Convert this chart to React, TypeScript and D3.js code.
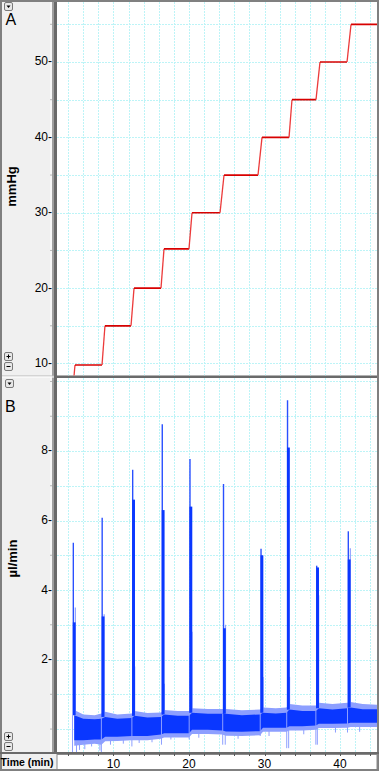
import React from "react";
import * as d3 from "d3";

const W = 379;
const H = 771;

// ---- Panel A: pressure (mmHg) vs time (min) ----
const pressureTime = [4.77, 4.9, 8.48, 8.87, 12.32, 12.72, 16.29, 16.69, 20.0, 20.4, 24.11, 24.64, 29.14, 29.67, 33.25, 33.64, 36.82, 37.35, 40.93, 41.46, 44.9];
const pressureValue = [8.34, 9.8, 9.8, 15, 15, 20, 20, 25.2, 25.2, 30, 30, 35, 35, 40, 40, 45, 45, 50, 50, 55, 55];

// ---- Panel B: flow (µl/min) vs time (min) ----
const flowTime = [4.8, 6.0, 7.5, 8.4, 8.9, 10.5, 12.4, 12.8, 14.5, 16.3, 16.7, 18.5, 20.0, 20.4, 22.5, 24.4, 24.9, 27.0, 29.4, 29.8, 31.5, 32.9, 33.3, 35.0, 36.8, 37.2, 39.0, 41.0, 41.4, 43.0, 44.9];
const flowCoreHi = [0.4, 0.3, 0.28, 0.3, 0.35, 0.3, 0.32, 0.38, 0.33, 0.35, 0.42, 0.38, 0.38, 0.47, 0.44, 0.44, 0.44, 0.4, 0.42, 0.47, 0.45, 0.47, 0.56, 0.52, 0.52, 0.6, 0.56, 0.6, 0.62, 0.57, 0.57];
const flowCoreLo = [-0.32, -0.32, -0.3, -0.3, -0.22, -0.22, -0.2, -0.2, -0.2, -0.16, -0.12, -0.12, -0.12, -0.02, -0.02, -0.04, -0.07, -0.08, -0.06, 0.04, 0.04, 0.04, 0.08, 0.08, 0.1, 0.15, 0.15, 0.16, 0.18, 0.18, 0.18];
const flowOuterHi = [0.55, 0.42, 0.4, 0.45, 0.5, 0.42, 0.45, 0.52, 0.46, 0.48, 0.55, 0.52, 0.52, 0.6, 0.58, 0.58, 0.58, 0.54, 0.56, 0.62, 0.6, 0.62, 0.72, 0.68, 0.68, 0.76, 0.72, 0.76, 0.78, 0.72, 0.7];
const flowOuterLo = [-0.48, -0.45, -0.42, -0.45, -0.35, -0.34, -0.32, -0.32, -0.32, -0.28, -0.24, -0.24, -0.24, -0.14, -0.14, -0.16, -0.19, -0.2, -0.18, -0.08, -0.08, -0.08, -0.04, -0.04, -0.02, 0.03, 0.03, 0.04, 0.06, 0.06, 0.06];

// light-blue noise excursions below the baseline
const dipTime = [5.1, 5.5, 6.2, 7.1, 8.2, 9.6, 11.3, 13.4, 15.1, 17.6, 21.3, 24.8, 26.5, 30.6, 33.2, 35.2, 37.0, 39.4, 42.6];
const dipValue = [-0.66, -0.6, -0.58, -0.5, -0.62, -0.45, -0.42, -0.4, -0.38, -0.3, -0.25, -0.45, -0.28, -0.2, -0.55, -0.15, -0.45, -0.1, -0.08];

const spikeTime = [4.68, 8.5, 12.54, 16.46, 20.13, 24.57, 29.54, 33.05, 36.91, 41.1];
const spikePeak = [5.36, 6.08, 7.46, 8.77, 7.77, 7.05, 5.19, 9.46, 4.7, 5.69];
const spikeDense = [3.07, 3.24, 6.6, 6.3, 6.4, 2.9, 5.0, 8.1, 4.65, 4.88];
const spikeSecond = [3.5, 3.3, 1.8, 1.3, 2.8, 3.0, 1.5, 1.5, 3.85, 5.2];
const spikeDip = [-0.66, -0.66, -0.5, -0.45, -0.3, -0.45, -0.2, -0.55, -0.45, -0.1];

// ---- Axes ----
const timeLabels = [10, 20, 30, 40];
const timeGrid = [4, 6, 8, 10, 12, 14, 16, 18, 20, 22, 24, 26, 28, 30, 32, 34, 36, 38, 40, 42, 44];
const pressureLabels = [10, 20, 30, 40, 50];
const pressureMinor = [15, 25, 35, 45, 55];
const pressureGrid = [10, 15, 20, 25, 30, 35, 40, 45, 50, 55];
const flowLabels = [2, 4, 6, 8];
const flowMinor = [0, 1, 3, 5, 7, 9, 10];
const flowGrid = [0, 1, 2, 3, 4, 5, 6, 7, 8, 9, 10];

const FONT = "'Liberation Sans', Arial, sans-serif";
const GRID = "#bdf4f7";
const BLUE = "#0a37ff";
const LIGHTBLUE = "#8d9fff";

function Button({ x, y, sym }: { x: number; y: number; sym: string }) {
  return (
    <g>
      <rect x={x + 0.5} y={y + 0.5} width={8} height={8} rx={1.5} fill="#e8e8e8" stroke="#7a7a7a" strokeWidth={1} />
      {sym === "down" && <path d={`M${x + 2.5},${y + 3.5} L${x + 6.5},${y + 3.5} L${x + 4.5},${y + 6} Z`} fill="#000" />}
      {sym === "plus" && <path d={`M${x + 2.5},${y + 4.5} H${x + 6.5} M${x + 4.5},${y + 2.5} V${y + 6.5}`} stroke="#000" strokeWidth={1} />}
      {sym === "minus" && <path d={`M${x + 2.5},${y + 4.5} H${x + 6.5}`} stroke="#000" strokeWidth={1} />}
    </g>
  );
}

export default function App() {
  const x = d3.scaleLinear().domain([2.517, 44.9]).range([57, 377]);
  const yA = d3.scaleLinear().domain([8.34, 57.96]).range([376, 2]);
  const yB = d3.scaleLinear().domain([-0.66, 10.1]).range([752, 378]);

  const A = { x0: 57, x1: 377, y0: 2, y1: 375.5 };
  const B = { x0: 57, x1: 377, y0: 378, y1: 752 };

  const pts = pressureTime.map((t, i) => [t, pressureValue[i]] as [number, number]);
  const segs = pts.slice(1).map((p, i) => [pts[i], p]);

  const idx = flowTime.map((_, i) => i);
  const outerArea = d3
    .area<number>()
    .x((i) => x(flowTime[i]))
    .y0((i) => yB(flowOuterLo[i]))
    .y1((i) => yB(flowOuterHi[i]));
  const coreArea = d3
    .area<number>()
    .x((i) => x(flowTime[i]))
    .y0((i) => yB(flowCoreLo[i]))
    .y1((i) => yB(flowCoreHi[i]));

  const lookup = (arr: number[], t: number) => {
    const i = d3.bisectLeft(flowTime, t);
    const j = Math.min(Math.max(i, 0), flowTime.length - 1);
    return arr[j];
  };

  return (
    <svg
      width={W}
      height={H}
      style={{ position: "fixed", left: 0, top: 0, display: "block", background: "#f0f0f0" }}
      fontFamily={FONT}
    >
      <defs>
        <clipPath id="clipA">
          <rect x={A.x0} y={A.y0} width={A.x1 - A.x0} height={A.y1 - A.y0} />
        </clipPath>
        <clipPath id="clipB">
          <rect x={B.x0} y={B.y0} width={B.x1 - B.x0} height={B.y1 - B.y0} />
        </clipPath>
      </defs>

      {/* frame */}
      <rect x={0} y={0} width={W} height={H} fill="#f0f0f0" />
      <rect x={0} y={0} width={2} height={H} fill="#808080" />
      <rect x={0} y={0} width={W} height={2} fill="#808080" />
      <rect x={377} y={0} width={2} height={H} fill="#808080" />
      <rect x={50} y={2} width={2} height={751} fill="#f8f8f8" />
      <rect x={52} y={2} width={2} height={751} fill="#a0a0a0" />
      <rect x={54} y={2} width={3} height={751} fill="#6a6a6a" />

      {/* plot backgrounds */}
      <rect x={A.x0} y={A.y0} width={A.x1 - A.x0} height={A.y1 - A.y0} fill="#fff" />
      <rect x={B.x0} y={B.y0} width={B.x1 - B.x0} height={B.y1 - B.y0} fill="#fff" />

      {/* panel separator */}
      <rect x={2} y={375.5} width={52} height={1} fill="#b8b8b8" />
      <rect x={2} y={376.5} width={52} height={1} fill="#ffffff" />
      <rect x={54} y={375.5} width={323} height={2.5} fill="#6a6a6a" />

      {/* grids */}
      <g clipPath="url(#clipA)" stroke={GRID} strokeWidth={1} strokeDasharray="2 1">
        {timeGrid.map((t) => (
          <line key={"va" + t} x1={Math.round(x(t)) + 0.5} x2={Math.round(x(t)) + 0.5} y1={A.y0} y2={A.y1} />
        ))}
        {pressureGrid.map((v) => (
          <line key={"ha" + v} x1={A.x0} x2={A.x1} y1={Math.round(yA(v)) + 0.5} y2={Math.round(yA(v)) + 0.5} />
        ))}
      </g>
      <g clipPath="url(#clipB)" stroke={GRID} strokeWidth={1} strokeDasharray="2 1">
        {timeGrid.map((t) => (
          <line key={"vb" + t} x1={Math.round(x(t)) + 0.5} x2={Math.round(x(t)) + 0.5} y1={B.y0} y2={B.y1} />
        ))}
        {flowGrid.map((v) => (
          <line key={"hb" + v} x1={B.x0} x2={B.x1} y1={Math.round(yB(v)) + 0.5} y2={Math.round(yB(v)) + 0.5} />
        ))}
      </g>

      {/* pressure trace */}
      <g clipPath="url(#clipA)" fill="none">
        {segs.map(([p, q], i) =>
          p[1] === q[1] ? (
            <line key={"ps" + i} x1={x(p[0])} x2={x(q[0])} y1={yA(p[1])} y2={yA(q[1])} stroke="#d80000" strokeWidth={1.7} />
          ) : (
            <line key={"ps" + i} x1={x(p[0])} x2={x(q[0])} y1={yA(p[1])} y2={yA(q[1])} stroke="#ec3a3a" strokeWidth={1.3} />
          )
        )}
      </g>

      {/* flow trace */}
      <g clipPath="url(#clipB)">
        {dipTime.map((t, i) => (
          <line key={"dp" + i} x1={x(t)} x2={x(t)} y1={yB(dipValue[i])} y2={yB(lookup(flowCoreLo, t))} stroke={LIGHTBLUE} strokeWidth={1} />
        ))}
        <path d={outerArea(idx) || ""} fill={LIGHTBLUE} />
        <path d={coreArea(idx) || ""} fill={BLUE} />
        {spikeTime.map((t, i) => {
          const xs = x(t);
          const b = lookup(flowCoreHi, t);
          return (
            <g key={"sp" + i}>
              <line x1={xs - 0.8} x2={xs - 0.8} y1={yB(spikeDip[i])} y2={yB(b)} stroke={LIGHTBLUE} strokeWidth={1} />
              <line x1={xs + 2} x2={xs + 2} y1={yB(b)} y2={yB(spikeSecond[i])} stroke={LIGHTBLUE} strokeWidth={1.2} />
              <line x1={xs} x2={xs} y1={yB(b)} y2={yB(spikePeak[i])} stroke="#2a50ff" strokeWidth={1.4} />
              <rect x={xs - 0.5} y={yB(spikeDense[i])} width={2.8} height={yB(b) - yB(spikeDense[i])} fill={BLUE} />
            </g>
          );
        })}
      </g>

      {/* y tick labels A */}
      <g fontSize={12} fill="#000" textAnchor="end">
        {pressureLabels.map((v) => (
          <text key={"pl" + v} x={52} y={yA(v) + 3.5}>
            {v}-
          </text>
        ))}
      </g>
      {pressureMinor.map((v) => (
        <rect key={"pm" + v} x={50.5} y={yA(v) - 0.5} width={1} height={1} fill="#7a7a7a" />
      ))}
      {/* y tick labels B */}
      <g fontSize={12} fill="#000" textAnchor="end">
        {flowLabels.map((v) => (
          <text key={"fl" + v} x={52} y={yB(v) + 3.5}>
            {v}-
          </text>
        ))}
      </g>
      {flowMinor.map((v) => (
        <rect key={"fm" + v} x={50.5} y={yB(v) - 0.5} width={1} height={1} fill="#7a7a7a" />
      ))}

      {/* panel letters */}
      <text x={5.5} y={25} fontSize={16} fill="#000">A</text>
      <text x={5} y={412} fontSize={16} fill="#000">B</text>

      {/* axis titles */}
      <text transform="translate(15.5,186.5) rotate(-90)" textAnchor="middle" fontSize={13} fontWeight="bold" fill="#000">
        mmHg
      </text>
      <text transform="translate(16.5,558.5) rotate(-90)" textAnchor="middle" fontSize={13} fontWeight="bold" fill="#000">
        µl/min
      </text>

      {/* buttons */}
      <Button x={4} y={2} sym="down" />
      <Button x={4} y={352} sym="plus" />
      <Button x={4} y={362} sym="minus" />
      <Button x={5} y={379} sym="down" />
      <Button x={4} y={732} sym="plus" />
      <Button x={4} y={742} sym="minus" />

      {/* time axis */}
      <rect x={0} y={752} width={W} height={2} fill="#6a6a6a" />
      <rect x={57} y={754.5} width={320} height={15} fill="#fff" stroke="#8a8a8a" strokeWidth={1} />
      <rect x={0} y={769} width={W} height={2} fill="#808080" />
      {timeGrid.map((t) => (
        <line key={"tt" + t} x1={Math.round(x(t)) + 0.5} x2={Math.round(x(t)) + 0.5} y1={754} y2={756} stroke="#555" strokeWidth={1} />
      ))}
      <g fontSize={12} fill="#000" textAnchor="middle">
        {timeLabels.map((t) => (
          <text key={"tl" + t} x={x(t)} y={768}>
            {t}
          </text>
        ))}
      </g>
      <text x={0.5} y={766} fontSize={10.5} fontWeight="bold" fill="#000">
        Time (min)
      </text>
    </svg>
  );
}
